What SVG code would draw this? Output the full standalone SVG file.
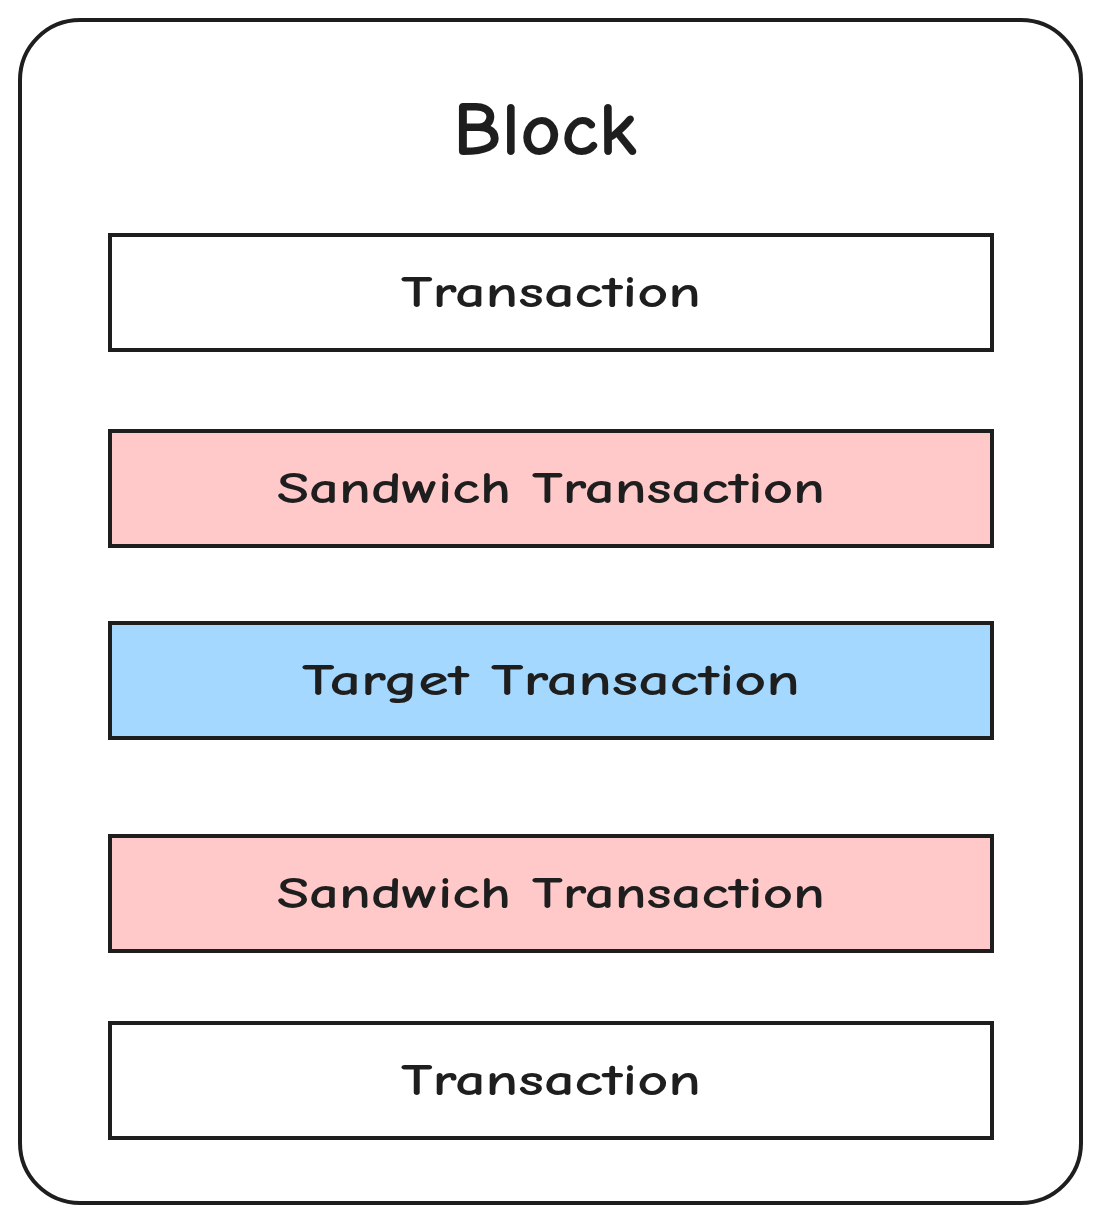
<svg xmlns="http://www.w3.org/2000/svg" width="1101" height="1222" viewBox="0 0 1101 1222">
<style>
.frame{fill:#ffffff;stroke:#1e1e1e;stroke-width:4}
.tx{stroke:#1e1e1e;stroke-width:4}
.plain{fill:#ffffff}
.pink{fill:#ffc9c9}
.blue{fill:#a5d8ff}
.lbl{font-family:"Comic Neue","Liberation Sans",sans-serif;font-weight:700;fill:#1e1e1e;text-anchor:middle}
</style>
<rect width="1101" height="1222" fill="#ffffff"/>
<g id="block">
<rect class="frame" x="20" y="20" width="1061" height="1183" rx="60" ry="60"/>
<text class="lbl" x="545" y="155" font-size="76" textLength="184" lengthAdjust="spacingAndGlyphs">Block</text>
</g>
<g id="tx1">
<rect class="tx plain" x="110" y="235" width="882" height="115"/>
<text class="lbl" x="551" y="307" font-size="44" textLength="300" lengthAdjust="spacingAndGlyphs">Transaction</text>
</g>
<g id="tx2">
<rect class="tx pink" x="110" y="431" width="882" height="115"/>
<text class="lbl" x="551" y="503" font-size="44" textLength="548" lengthAdjust="spacingAndGlyphs">Sandwich Transaction</text>
</g>
<g id="tx3">
<rect class="tx blue" x="110" y="623" width="882" height="115"/>
<text class="lbl" x="551" y="695" font-size="44" textLength="498" lengthAdjust="spacingAndGlyphs">Target Transaction</text>
</g>
<g id="tx4">
<rect class="tx pink" x="110" y="836" width="882" height="115"/>
<text class="lbl" x="551" y="908" font-size="44" textLength="548" lengthAdjust="spacingAndGlyphs">Sandwich Transaction</text>
</g>
<g id="tx5">
<rect class="tx plain" x="110" y="1023" width="882" height="115"/>
<text class="lbl" x="551" y="1095" font-size="44" textLength="300" lengthAdjust="spacingAndGlyphs">Transaction</text>
</g>
<g id="connectors"></g>
</svg>
